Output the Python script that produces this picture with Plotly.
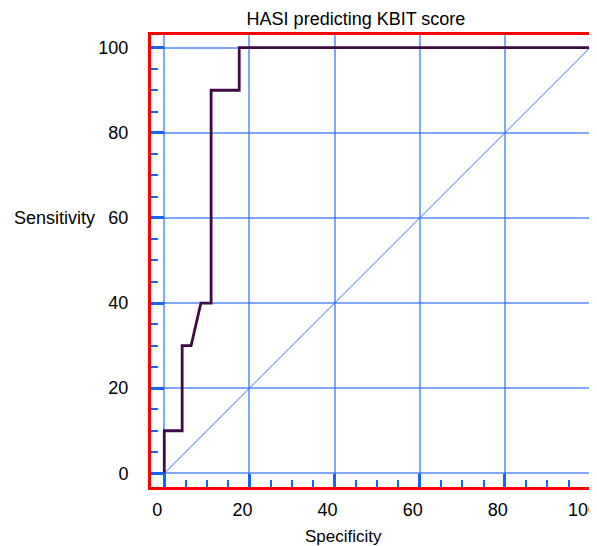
import plotly.graph_objects as go

# ROC curve values (specificity axis as drawn, sensitivity)
roc_x = [0, 0, 4.2, 4.2, 6.3, 8.6, 11.0, 11.0, 17.6, 17.6, 100]
roc_y = [0, 10, 10, 30, 30, 40, 40, 90, 90, 100, 100]
diag_x = [0, 100]
diag_y = [0, 100]
tick_vals = [0, 20, 40, 60, 80, 100]
tick_text = ["0", "20", "40", "60", "80", "100"]

FONT = "Liberation Sans, Arial, sans-serif"
GRID = "rgba(40,110,255,0.6)"
TICK = "#1464ff"

OFF = 8  # page body margin
W, H = 597 - OFF, 546 - OFF
L, T, B = 151 - OFF, 35 - OFF, 59
PW = W - L
PH = H - T - B

fig = go.Figure()
fig.add_trace(go.Scatter(x=diag_x, y=diag_y, mode="lines",
                         line=dict(color="#2a72ff", width=1), hoverinfo="skip"))
fig.add_trace(go.Scatter(x=roc_x, y=roc_y, mode="lines",
                         line=dict(color="#3f0a45", width=2.8)))

fig.update_layout(
    width=W, height=H,
    margin=dict(l=L, r=0, t=T, b=B),
    paper_bgcolor="white", plot_bgcolor="white",
    showlegend=False,
    font=dict(family=FONT, size=18, color="black"),
    title=dict(text="HASI predicting KBIT score", x=(356 - OFF) / W, xanchor="center",
               y=1 - (19 - OFF) / H, yanchor="middle", font=dict(size=18)),
    xaxis=dict(range=[-3.12, 101.64], tickvals=tick_vals, ticktext=tick_text,
               automargin=False, ticklabeloverflow="allow",
               showgrid=True, gridcolor=GRID, gridwidth=1.5, zeroline=False,
               showline=True, linecolor="red", linewidth=3, mirror=True,
               ticks="inside", ticklen=13, tickwidth=2.5, tickcolor=TICK,
               minor=dict(dtick=5, ticks="inside", ticklen=7, tickwidth=2,
                          tickcolor=TICK, showgrid=False),
               ticklabelshift=-7, ticklabelstandoff=4),
    yaxis=dict(range=[-3.22, 102.98], tickvals=tick_vals, ticktext=tick_text,
               automargin=False, ticklabeloverflow="allow",
               showgrid=True, gridcolor=GRID, gridwidth=1.5, zeroline=False,
               showline=True, linecolor="red", linewidth=3, mirror=True,
               ticks="inside", ticklen=13, tickwidth=2.5, tickcolor=TICK,
               minor=dict(dtick=5, ticks="inside", ticklen=7, tickwidth=2,
                          tickcolor=TICK, showgrid=False),
               ticklabelstandoff=16),
    annotations=[
        dict(text="Sensitivity", xref="paper", yref="y", x=(12 - 151) / PW,
             y=60, xanchor="left", yanchor="middle", showarrow=False,
             font=dict(size=18)),
        dict(text="Specificity", xref="paper", yref="paper",
             x=(343 - 151) / PW, y=-(536 - 487) / PH, xanchor="center",
             yanchor="middle", showarrow=False, font=dict(size=17)),
    ],
)

fig.write_html("out.html")
